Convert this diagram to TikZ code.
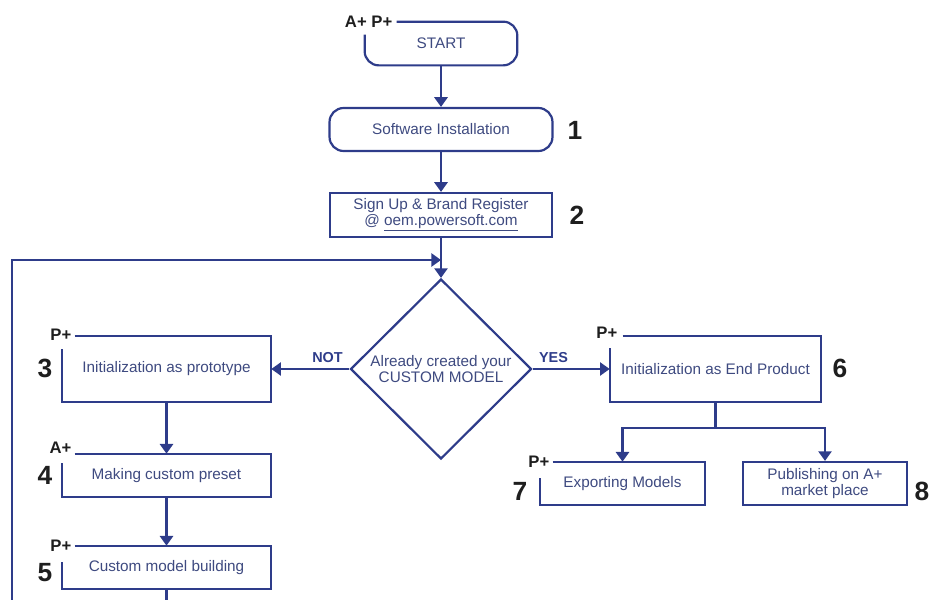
\documentclass[tikz,border=0pt]{standalone}
\usepackage{fontspec}
\setmainfont{Liberation Sans}
\usepackage{tikz}
\usetikzlibrary{shapes.geometric,arrows.meta,calc}
\definecolor{flowblue}{HTML}{2E3C8A}
\definecolor{boxtext}{HTML}{3E4A80}
\definecolor{tagblack}{HTML}{1E1E1E}
\tikzset{
    stage/.style={rectangle, inner sep=0pt, minimum height=0.86cm, align=center,
        text=boxtext, font=\fontsize{8.7}{8.6}\selectfont},
    frame/.style={draw=flowblue, line width=1.25pt},
    flow/.style={draw=flowblue, line width=1.25pt, -{Triangle[width=7.5pt,length=5.5pt]}},
    tag/.style={inner sep=0pt, text=tagblack, font=\fontsize{9.5}{9.5}\selectfont\bfseries},
    num/.style={inner sep=0pt, text=tagblack, font=\fontsize{15}{15}\selectfont\bfseries},
    answer/.style={inner sep=0pt, text=flowblue, font=\fontsize{8.2}{8.2}\selectfont\bfseries}
}

\begin{document}
\begin{tikzpicture}[x=0.02cm, y=-0.02cm]
        \useasboundingbox (0,0) rectangle (930,599);
        % main column
        \node (start) [stage, minimum width=3.04cm] at (441,43.5) {START};
        \node (install) [stage, frame, rounded corners=8pt, minimum width=4.46cm] at (441,129.5) {Software Installation};
        \node (signup) [stage, frame, minimum width=4.44cm, minimum height=0.88cm,
            font=\fontsize{8.7}{7.4}\selectfont] at (441,215) {Sign Up \& Brand Register\\@ \underline{oem.powersoft.com}};
        \node (decide) [stage, frame, shape=diamond, minimum width=3.62cm, minimum height=3.6cm] at (441,369)
            {Already created your\\CUSTOM MODEL};
        % left branch
        \node (b3) [stage, minimum width=4.18cm, minimum height=1.32cm] at (166.5,369) {Initialization as prototype};
        \node (b4) [stage, minimum width=4.18cm] at (166.5,475.5) {Making custom preset};
        \node (b5) [stage, minimum width=4.18cm] at (166.5,567.5) {Custom model building};
        % right branch
        \node (b6) [stage, minimum width=4.22cm, minimum height=1.32cm] at (715.5,369) {Initialization as End Product};
        \node (b7) [stage, minimum width=3.3cm] at (622.5,483.5) {Exporting Models};
        \node (b8) [stage, frame, minimum width=3.28cm] at (825,483.5) {Publishing on A+\\market place};
        % tags
        \node (t0) [tag, anchor=east] at ($(start.north west)+(28,0)$) {A+ P+};
        \node (t3) [tag, anchor=east] at ($(b3.north west)+(10,-1)$) {P+};
        \node (t4) [tag, anchor=east] at ($(b4.north west)+(10,-6)$) {A+};
        \node (t5) [tag, anchor=east] at ($(b5.north west)+(10,0)$) {P+};
        \node (t6) [tag, anchor=east] at ($(b6.north west)+(8,-3)$) {P+};
        \node (t7) [tag, anchor=east] at ($(b7.north west)+(10,0)$) {P+};
        % step numbers
        \node (n1) [num] at (575,130) {1};
        \node (n2) [num] at (577,215) {2};
        \node (n3) [num] at (45,368) {3};
        \node (n4) [num] at (45,475) {4};
        \node (n5) [num] at (45,573) {5};
        \node (n6) [num] at (840,368) {6};
        \node (n7) [num] at (520,491) {7};
        \node (n8) [num] at (922,491) {8};
        \node (no) [answer] at (327.5,358) {NOT};
        \node (yes) [answer] at (553.5,358) {YES};
        % open frames
        \draw [frame, rounded corners=8pt] ($(start.north west)+(32,0)$) -- (start.north east) -- (start.south east)
            -- (start.south west) -- ($(start.north west)+(0,13)$);
        \draw [frame] ($(b3.north west)+(13,0)$) -- (b3.north east) -- (b3.south east) -- (b3.south west) -- ($(b3.north west)+(0,13)$);
        \draw [frame] ($(b4.north west)+(13,0)$) -- (b4.north east) -- (b4.south east) -- (b4.south west) -- ($(b4.north west)+(0,9)$);
        \draw [frame] ($(b5.north west)+(13,0)$) -- (b5.north east) -- (b5.south east) -- (b5.south west) -- ($(b5.north west)+(0,16)$);
        \draw [frame] ($(b6.north west)+(13,0)$) -- (b6.north east) -- (b6.south east) -- (b6.south west) -- ($(b6.north west)+(0,12)$);
        \draw [frame] ($(b7.north west)+(13,0)$) -- (b7.north east) -- (b7.south east) -- (b7.south west) -- ($(b7.north west)+(0,16)$);
        % connectors
        \coordinate (loopin) at (441,260);
        \coordinate (split) at ($(b6.south)+(0,26)$);
        \draw [flow] (start) -- (install);
        \draw [flow] (install) -- (signup);
        \draw [flow] (signup) -- (decide);
        \draw [flow] (decide) -- (b3);
        \draw [flow] (decide) -- (b6);
        \draw [flow] (b3) -- (b4);
        \draw [flow] (b4) -- (b5);
        \draw [frame] (b6.south) -- (split);
        \draw [flow] (split) -| (b7.north);
        \draw [flow] (split) -| (b8.north);
        \begin{scope}
                \clip (0,0) rectangle (930,599);
                \draw [flow] (b5.south) -- (166.5,620) -| (12,260) -- (loopin);
        \end{scope}
\end{tikzpicture}
\end{document}
